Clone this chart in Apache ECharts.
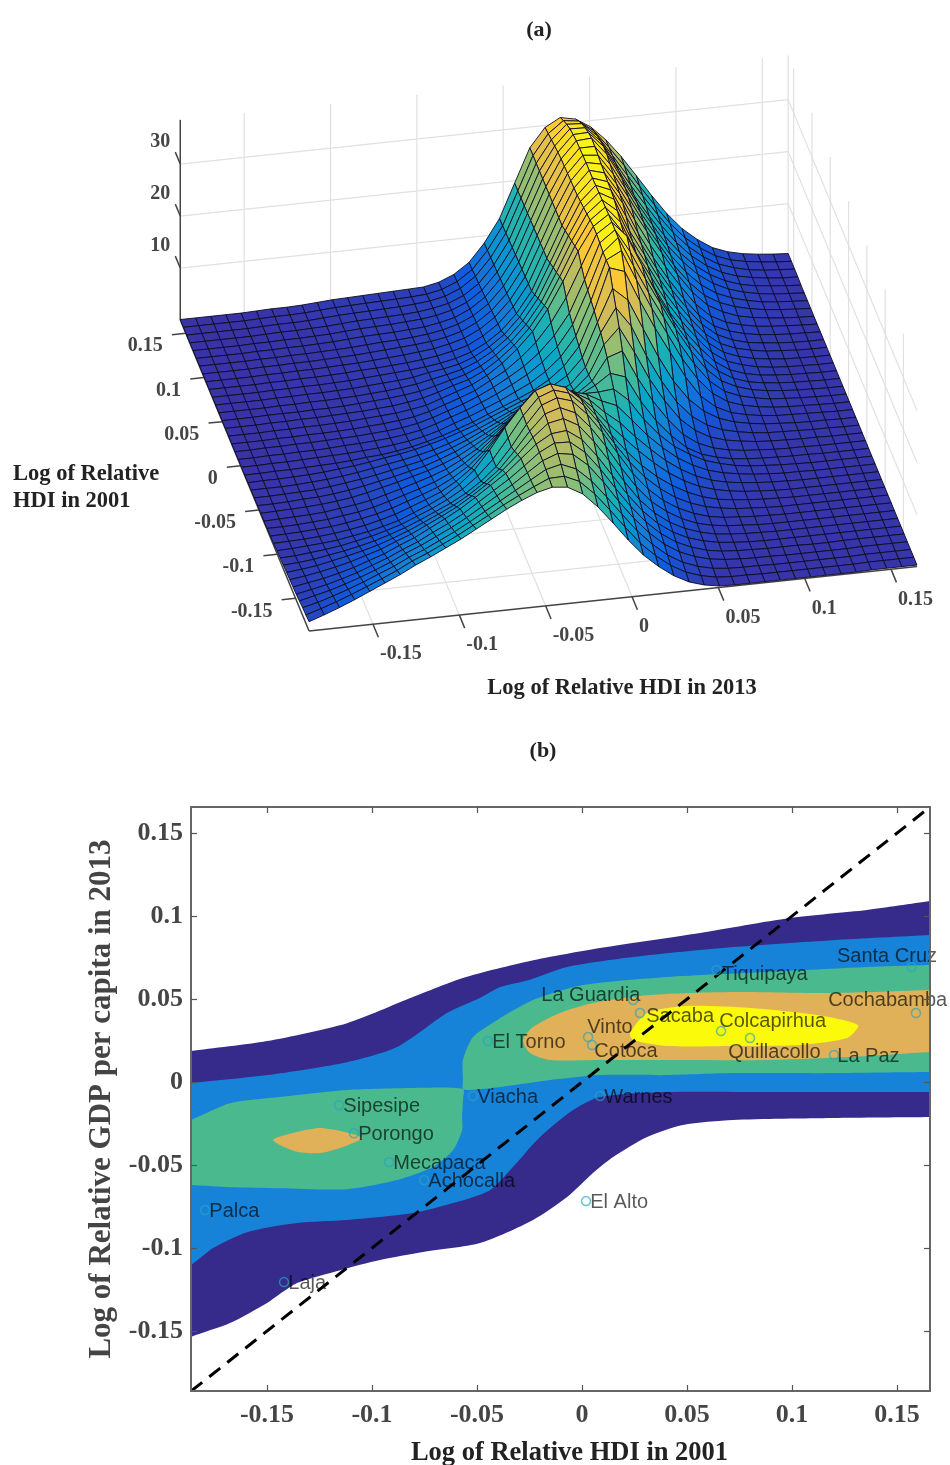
<!DOCTYPE html>
<html><head><meta charset="utf-8">
<style>html,body{margin:0;padding:0;background:#fff}#c{width:950px;height:1465px}</style>
<script src="https://cdn.jsdelivr.net/npm/echarts@6/dist/echarts.min.js"></script></head>
<body><div id="c"></div>
<script>
// ---- panel (a): surface ----
const meshHdi = [-.187,-.1782,-.1694,-.1606,-.1518,-.143,-.1342,-.1254,-.1166,-.1078,-.099,-.0902,-.0814,-.0726,-.0638,-.055,-.0462,-.0374,-.0286,-.0198,-.011,-.0022,.0066,.0154,.0242,.033,.0418,.0506,.0594,.0682,.077,.0858,.0946,.1034,.1122,.121,.1298,.1386,.1474,.1562,.165];
const densityRows = [
[1.8,2.8,3.9,5.1,6.4,7.7,9,10.5,11.8,13.2,14.6,16.2,17.8,19.4,20.8,22,22.7,22.4,20.8,18,14.6,11,7.8,5.3,3.2,1.7,.8,.3,.2,.2,.2,.2,.2,.2,.2,.2,.2,.3,.3,.3,.3],
[1.6,2.5,3.5,4.6,5.8,7,8.3,9.8,11,12.4,13.8,15.4,17,18.7,20.2,21.6,22.9,23,21.7,19,15.6,12,8.6,5.9,3.7,2.1,1.1,.5,.3,.3,.2,.2,.2,.2,.2,.2,.2,.3,.3,.3,.3],
[1.5,2.2,3.1,4.1,5.2,6.4,7.6,9,10.2,11.6,13,14.6,16.3,18,19.7,21.4,23.1,23.8,22.6,20,16.6,13,9.5,6.6,4.2,2.5,1.4,.7,.4,.3,.3,.2,.2,.2,.2,.2,.2,.3,.3,.3,.3],
[1.3,2,2.7,3.6,4.6,5.7,6.9,8.3,9.5,10.9,12.3,13.9,15.7,17.5,19.3,21.3,23.3,24.4,23.9,21.5,18,14,10.4,7.3,4.8,3,1.8,1,.6,.4,.3,.3,.2,.2,.2,.2,.2,.3,.3,.3,.3],
[1.1,1.7,2.3,3.1,4,5.1,6.2,7.5,8.7,10.2,11.6,13.2,15.1,17,18.9,21.1,23.4,24.9,24.8,22.5,19,15,11.2,7.9,5.3,3.4,2.1,1.2,.7,.5,.4,.3,.3,.3,.2,.2,.3,.3,.3,.3,.3],
[1,1.5,2,2.7,3.5,4.5,5.5,6.8,8,9.5,11,12.6,14.5,16.5,18.5,21,23.5,25.2,25.5,23.5,20,16,12,8.5,5.8,3.8,2.4,1.5,.9,.6,.4,.3,.3,.3,.3,.3,.3,.3,.3,.3,.3],
[.9,1.3,1.8,2.4,3.1,4,4.9,6.1,7.2,8.6,10,11.5,13.3,15.3,17.6,20.3,23.3,25.7,26.3,24.7,21.3,17.3,13,9.2,6.3,4.2,2.7,1.7,1,.7,.5,.4,.3,.3,.3,.3,.3,.3,.3,.3,.3],
[.8,1.1,1.5,2.1,2.7,3.4,4.2,5.2,6.3,7.6,8.9,10.3,12,14,16.3,19.5,23,26,26.9,25.6,22.5,18.6,14.2,10.2,7,4.8,3.1,1.9,1.2,.8,.6,.4,.3,.3,.3,.3,.3,.3,.3,.3,.3],
[.7,.9,1.2,1.7,2.2,2.8,3.5,4.4,5.4,6.6,7.9,9.2,10.8,12.8,15.3,18.8,22.8,26.2,27.3,26.4,23.5,19.7,15.4,11.2,7.9,5.4,3.6,2.3,1.4,.9,.7,.5,.4,.3,.3,.3,.3,.3,.3,.3,.3],
[.6,.7,1,1.3,1.7,2.3,2.9,3.7,4.6,5.8,7,8.4,10.1,12.3,15.2,19,23,26.2,27.3,26.4,23.7,20,15.8,11.9,8.7,6.2,4.2,2.8,1.8,1.2,.8,.6,.4,.3,.3,.3,.3,.3,.3,.3,.3],
[.5,.6,.8,1,1.3,1.8,2.3,3,3.8,5,6.2,7.6,9.5,12,15.5,19.5,23,26,27,26,23.5,20,16,12.5,9.5,7,5,3.4,2.2,1.4,1,.7,.5,.4,.3,.3,.3,.3,.3,.3,.3],
[.4,.5,.6,.8,1.1,1.5,2,2.7,3.5,4.6,5.7,6.9,8.6,10.8,13.8,17.3,20.8,24,25.3,24.6,22.7,20,16.6,13.7,10.8,8.2,5.9,4.1,2.7,1.8,1.2,.8,.6,.4,.3,.3,.3,.3,.3,.3,.3],
[.3,.4,.5,.7,.9,1.3,1.8,2.4,3.2,4.2,5.2,6.3,7.8,9.7,12.2,15.2,18.5,21.7,23.3,23,21.7,20,17.3,15,12,9.3,6.8,4.8,3.2,2.1,1.4,1,.7,.5,.4,.3,.3,.3,.3,.3,.3],
[.3,.3,.4,.6,.8,1.2,1.6,2.2,3,3.9,4.8,5.8,7.1,8.8,10.9,13.4,16.2,19.3,21,21,20.4,19.6,18,16.8,13.7,10.5,7.8,5.5,3.8,2.5,1.7,1.2,.8,.6,.4,.4,.3,.3,.3,.3,.3],
[.2,.3,.4,.5,.7,1.1,1.5,2,2.8,3.6,4.5,5.4,6.5,8,9.7,11.9,14.2,16.8,18.5,18.7,18.2,18.2,18.2,18.5,16,12,8.8,6.2,4.4,2.9,2,1.3,.9,.7,.5,.4,.3,.3,.3,.3,.3],
[.2,.3,.4,.5,.7,1,1.4,2,2.7,3.4,4.2,5,6,7.2,8.8,10.5,12.5,14.5,16,16.5,16,16.5,18,20,19,14,10,6.8,4.2,2.6,1.7,1.1,.8,.6,.5,.4,.4,.3,.3,.3,.3],
[.2,.2,.3,.5,.6,.9,1.3,1.8,2.4,3,3.7,4.4,5.4,6.5,7.9,9.4,11,12.8,14.2,14.8,14.6,15.2,17.3,21.5,22.5,17,12.3,8.4,5.2,3.2,2,1.3,.9,.7,.5,.4,.4,.3,.3,.3,.3],
[.2,.2,.3,.4,.5,.8,1.2,1.6,2.1,2.7,3.3,3.9,4.8,5.8,7,8.4,9.8,11.3,12.7,13.3,13.5,14.4,17,22.5,25.5,20.5,15,10.5,6.7,4.2,2.6,1.7,1.2,.8,.6,.5,.4,.4,.3,.3,.3],
[.2,.2,.2,.3,.5,.7,1,1.4,1.9,2.4,2.9,3.5,4.2,5.1,6.2,7.4,8.7,10,11.3,12,12.7,14,17,23.3,27.8,24,18,12.8,8.5,5.4,3.4,2.2,1.5,1,.7,.6,.5,.4,.4,.3,.3],
[.1,.2,.2,.3,.4,.6,.9,1.2,1.6,2.1,2.5,3.1,3.8,4.6,5.6,6.6,7.8,9,10.2,11.2,12.4,14.2,17.3,23.8,30,27.5,21.7,16,11,7.2,4.6,2.9,1.9,1.3,.9,.7,.5,.4,.4,.3,.3],
[.1,.1,.2,.2,.3,.4,.5,.7,1,1.2,1.6,2.1,2.8,3.6,4.6,5.6,6.8,8,9.2,10.5,12.2,14.5,18,24.5,32.5,31.5,25.5,20,15,10,6,3.6,2.2,1.5,1,.7,.6,.5,.4,.3,.3],
[.1,.1,.2,.2,.3,.4,.5,.6,.8,1,1.3,1.7,2.3,3.1,4.2,5.2,6.4,7.6,9,10.4,12.3,14.8,18.5,25,32.5,34,28,22.3,17.2,12,7.8,4.7,2.8,1.8,1.2,.8,.6,.5,.4,.3,.3],
[.1,.1,.2,.2,.3,.3,.4,.6,.7,.9,1.1,1.5,2,2.9,3.9,4.9,6.1,7.4,8.9,10.5,12.6,15.3,19.2,25.5,32.5,35,29.3,23.8,18.7,13.6,9.2,5.6,3.3,2.1,1.4,.9,.7,.5,.4,.3,.3],
[.1,.1,.2,.2,.3,.3,.4,.5,.6,.8,1,1.3,1.8,2.6,3.6,4.6,5.8,7.2,8.8,10.6,12.9,15.9,19.9,26,32.8,35,30.5,25,19.8,14.7,10.2,6.4,3.8,2.4,1.5,1,.7,.5,.4,.3,.3],
[.1,.1,.1,.2,.2,.3,.3,.4,.5,.7,.9,1.2,1.6,2.3,3.3,4.3,5.4,7,8.6,10.8,13.4,16.9,21.4,27.2,33,35,32,26,20,15,10.6,7,4.2,2.5,1.5,1,.7,.5,.4,.3,.3],
[.1,.1,.1,.2,.2,.3,.3,.4,.5,.7,.9,1.1,1.5,2,3,4,5,6.5,8.5,11,14,18,23,28.5,33,35,31,25,20,15,11,7.5,4.5,2.6,1.6,1,.7,.5,.4,.3,.3],
[.1,.1,.1,.2,.2,.3,.3,.4,.5,.6,.8,1,1.4,1.9,2.7,3.7,4.5,5.9,7.8,10.2,13.2,17.2,22.4,28,32.7,34.9,31.7,25.6,20.6,15.6,11.5,7.9,4.8,2.8,1.8,1.1,.7,.5,.4,.3,.3],
[.1,.1,.1,.2,.2,.2,.3,.3,.4,.6,.8,1,1.3,1.7,2.4,3.2,4,5.3,7.1,9.4,12.4,16.4,21.8,27.5,32.4,34.8,32.4,26.2,21.2,16.2,12,8.3,5.1,3,1.9,1.2,.8,.5,.4,.3,.3],
[.1,.1,.1,.1,.2,.2,.3,.3,.4,.5,.7,.9,1.2,1.6,2.2,2.8,3.5,4.7,6.4,8.6,11.6,15.6,21.2,27,32.1,34.7,33.1,26.8,21.8,16.8,12.5,8.7,5.4,3.2,2,1.3,.8,.6,.4,.3,.3],
[.1,.1,.1,.1,.2,.2,.3,.3,.4,.5,.7,.9,1.1,1.4,2,2.4,3,4.1,5.7,7.8,10.8,14.8,20.6,26.5,31.8,34.6,33.4,28,22.4,17.4,13,9.1,5.7,3.4,2.1,1.3,.9,.6,.4,.3,.3],
[.1,.1,.1,.1,.2,.2,.3,.3,.4,.5,.7,.9,1.1,1.3,1.6,2,2.6,3.5,5,7,10,14,20,26,31.5,34.5,33.5,29,23,18,13.5,9.5,6,3.6,2.3,1.5,1,.7,.5,.4,.3],
[.1,.1,.1,.1,.2,.2,.3,.3,.4,.5,.7,.8,1,1.2,1.5,1.9,2.5,3.3,4.8,6.8,9.8,13.9,20,26,31.4,34.5,33.7,29.4,24,19,14.5,10.4,6.6,4,2.5,1.7,1.1,.8,.6,.4,.3],
[.1,.1,.1,.1,.2,.2,.3,.3,.4,.5,.6,.8,1,1.2,1.5,1.8,2.4,3.2,4.6,6.6,9.6,13.8,19.9,26,31.3,34.5,33.9,29.8,24.8,20,15.5,11.2,7.4,4.6,3,1.9,1.3,.9,.6,.4,.3],
[.1,.1,.1,.1,.2,.2,.3,.3,.4,.5,.6,.8,1,1.2,1.4,1.7,2.2,3,4.4,6.4,9.4,13.7,19.9,26,31.2,34.4,34.1,30.2,25.4,20.3,15.8,11.4,7.8,5,3.3,2.2,1.5,1,.7,.5,.3],
[.1,.1,.1,.1,.2,.2,.3,.3,.4,.5,.6,.8,1,1.1,1.3,1.6,2.1,2.9,4.2,6.2,9.3,13.6,19.8,26,31.1,34.3,34.3,30.6,25.7,20.7,16.2,11.8,8.3,5.5,3.6,2.4,1.6,1,.7,.5,.3],
[.1,.1,.1,.1,.2,.2,.3,.3,.4,.5,.7,.9,1,1.1,1.3,1.5,2,2.7,4,6,9.2,13.5,19.8,26,31,34.2,34.4,31,26,21,16.5,12.2,8.8,6,4,2.6,1.7,1.1,.7,.5,.3],
[.1,.1,.1,.1,.2,.2,.3,.3,.4,.5,.7,.9,1,1.1,1.3,1.5,1.9,2.6,3.8,5.8,9,13.4,19.7,26,30.8,33.9,34,31,26,21,16.7,12.6,9.1,6.3,4.2,2.7,1.7,1.1,.8,.5,.3],
[.1,.1,.1,.1,.1,.2,.3,.3,.4,.5,.7,.9,1,1.1,1.2,1.4,1.8,2.4,3.6,5.6,8.9,13.3,19.6,26,30.5,33.5,33.4,30.6,26,21.4,17.2,13.1,9.5,6.6,4.4,2.8,1.8,1.2,.8,.5,.4],
[.1,.1,.1,.1,.1,.2,.3,.3,.4,.6,.8,.9,1,1.1,1.2,1.4,1.7,2.3,3.5,5.5,8.8,13.2,19.6,26,30.2,32.9,32.7,30.1,26,21.8,17.6,13.6,9.9,6.9,4.6,2.9,1.9,1.2,.8,.6,.4],
[.1,.1,.1,.1,.1,.2,.3,.3,.4,.6,.8,.9,1,1.1,1.2,1.3,1.5,2.1,3.3,5.3,8.7,13.1,19.5,26,29.9,32.1,31.7,29.5,26,22.2,18,14,10.2,7.1,4.8,3,1.9,1.3,.9,.6,.4],
[.1,.1,.1,.1,.1,.2,.3,.3,.4,.6,.8,.9,1,1.1,1.2,1.3,1.4,2,3.2,5.2,8.6,13,19.5,26,29.6,31.2,30.6,28.8,26,22.5,18.5,14.4,10.6,7.4,5,3.1,2,1.3,.9,.6,.4]
];
const tickHdi = [-.15,-.1,-.05,0,.05,.1,.15];
const tickDensity = [10,20,30];
const rangeHdi = [-.187,.165];
const densityTop = 38.5;
const parula = ['#3A32A6','#0F5CDD','#1481D6','#06A4CA','#2EB7A4','#87BF77','#D1BB59','#FEC832','#F9FB0E'];

// ---- panel (b): contour regions ----
const outerRegion = [[-.2,.0165],[-.1862,.0187],[-.15,.0247],[-.1119,.0355],[-.0805,.0512],[-.0567,.0627],[-.0248,.0729],[.0086,.0807],[.0562,.0898],[.099,.0988],[.1357,.1036],[.1657,.109],[.18,.1115],[.18,-.0206],[.1657,-.0211],[.1195,-.0217],[.0719,-.0229],[.0481,-.0259],[.031,-.0331],[.0148,-.0452],[.0052,-.0548],[-.0071,-.0693],[-.0233,-.0831],[-.0486,-.097],[-.0757,-.1024],[-.0962,-.1072],[-.1152,-.1133],[-.1357,-.1211],[-.15,-.1331],[-.1676,-.1452],[-.1862,-.1536],[-.2,-.1625]];
const blueRegion = [[-.2,-.0022],[-.1862,-.0006],[-.15,.0042],[-.1119,.012],[-.0881,.0211],[-.0643,.0416],[-.0486,.0506],[-.039,.0572],[-.0248,.0617],[-.0071,.0693],[.0243,.0753],[.0719,.0813],[.1195,.0855],[.1657,.0886],[.18,.0896],[.18,-.006],[.1657,-.006],[.0881,-.006],[.0405,-.006],[.0086,-.009],[-.0043,-.0169],[-.02,-.0331],[-.0329,-.0512],[-.0438,-.0651],[-.0614,-.0729],[-.0805,-.0789],[-.1119,-.0831],[-.1357,-.0849],[-.1595,-.0904],[-.1757,-.1],[-.1862,-.1102],[-.2,-.118]];
const greenLeft = [[-.2,-.0305],[-.1862,-.0229],[-.1676,-.0127],[-.1438,-.009],[-.1119,-.0048],[-.0805,-.0036],[-.0567,-.0042],[-.0567,-.0108],[-.0571,-.0211],[-.0571,-.0289],[-.0614,-.041],[-.071,-.0512],[-.0881,-.059],[-.1119,-.0645],[-.1438,-.0639],[-.1676,-.0633],[-.1862,-.062],[-.2,-.0615]];
const greenRight = [[-.0567,-.0042],[-.0567,.0012],[-.0567,.0133],[-.0519,.0271],[-.0405,.0373],[-.0233,.0494],[.0005,.0584],[.0405,.0633],[.0881,.0663],[.1357,.0693],[.1657,.0705],[.18,.0712],[.18,.006],[.1657,.006],[.1195,.0054],[.0719,.0054],[.0405,.0042],[.0086,.0042],[-.0152,.0012],[-.039,-.003],[-.0533,-.0048]];
const orangeRight = [[-.0281,.0253],[-.0233,.0331],[-.0105,.0416],[.0052,.0476],[.0324,.0524],[.0719,.0542],[.1195,.0536],[.1657,.0554],[.18,.056],[.18,.0185],[.1657,.0181],[.1276,.0151],[.0881,.0133],[.0405,.0133],[.0086,.0133],[-.0152,.0133],[-.0248,.0175]];
const orangeLeft = [[-.1471,-.0349],[-.1357,-.0301],[-.1248,-.0277],[-.1129,-.0301],[-.1048,-.0337],[-.1129,-.0386],[-.1248,-.0428],[-.1367,-.0416]];
const yellowRegion = [[.0229,.0295],[.031,.0416],[.05,.0458],[.08,.0446],[.1119,.0404],[.1314,.0343],[.1262,.0265],[.1038,.0223],[.0719,.0217],[.0405,.0217],[.0243,.0253]];
const cityNames = ['Santa Cruz','Cochabamba','Tiquipaya','La Guardia','Sacaba','Colcapirhua','Quillacollo','La Paz','Vinto','Cotoca','El Torno','Viacha','Warnes','Sipesipe','Porongo','Mecapaca','Achocalla','Palca','Laja','El Alto'];
const cityHdi = [.157,.159,.064,.0243,.0276,.0662,.08,.12,.0029,.0048,-.0448,-.0519,.0086,-.1157,-.1086,-.0919,-.0752,-.1795,-.1419,.0019];
const cityGdp = [.0693,.0416,.0675,.0494,.0416,.0307,.0265,.0163,.0271,.0223,.0247,-.0084,-.0084,-.0139,-.0309,-.0482,-.059,-.0771,-.1205,-.0717];
const tickB = [-.15,-.1,-.05,0,.05,.1,.15];
const rangeBx = [-.1862,.1657];
const rangeBy = [-.1861,.1657];
const diagonal = [[-.1861,-.1861],[.1657,.1657]];

// ---- layout / view ----
const labelShift = {'Santa Cruz':[-80,-11],'Cochabamba':[-93,-13],'Tiquipaya':[0,4],'La Guardia':[-97,-5],'Sacaba':[1,3],'Colcapirhua':[-7,-10],'Quillacollo':[-27,14],'La Paz':[-2,1],'Vinto':[-6,-10],'Cotoca':[-3,6]};
const VIEW = {ox:563.6, oy:431.6, xx:1727, xy:-183, yx:-366, yy:-883.5, zy:-5.2};
const proj = (X,Y,Z)=>[VIEW.ox+VIEW.xx*X+VIEW.yx*Y, VIEW.oy+VIEW.xy*X+VIEW.yy*Y+VIEW.zy*Z];
const [lo,hi] = rangeHdi;
const SERIF = '"Liberation Serif", serif';
const hex = h=>[1,3,5].map(k=>parseInt(h.substr(k,2),16));
function colorOf(z){
  const t=Math.max(0,Math.min(.9999,z/35))*(parula.length-1), k=Math.floor(t), f=t-k;
  const a=hex(parula[k]), b=hex(parula[k+1]);
  return 'rgb('+a.map((v,n)=>Math.round(v+(b[n]-v)*f)).join(',')+')';
}

// segments in the 3D box
const wall=[], axes3=[];
tickHdi.forEach(t=>{
  wall.push([t,hi,0,t,hi,densityTop],[t,lo,0,t,hi,0]);
  wall.push([hi,t,0,hi,t,densityTop],[lo,t,0,hi,t,0]);
  axes3.push([t,lo,0,t,lo-.0147,0],[lo,t,0,lo-.008,t,0]);
});
tickDensity.forEach(z=>{
  wall.push([lo,hi,z,hi,hi,z],[hi,hi,z,hi,lo,z]);
  axes3.push([lo,hi,z,lo,hi+.0135,z]);
});
wall.push([hi,hi,0,hi,hi,densityTop],[hi,hi,0,hi,lo,0],[lo,hi,0,hi,hi,0]);
axes3.push([lo,hi,0,lo,hi,densityTop],[lo,lo,0,hi,lo,0],[lo,lo,0,lo,hi,0]);

const cells=[];
for(let j=39;j>=0;j--) for(let i=39;i>=0;i--) cells.push([i,j]);

const segRender=(style)=>(params,api)=>{
  const a=api.coord(proj(api.value(0),api.value(1),api.value(2)));
  const b=api.coord(proj(api.value(3),api.value(4),api.value(5)));
  return {type:'line',shape:{x1:a[0],y1:a[1],x2:b[0],y2:b[1]},style};
};
const surfaceRender=(params,api)=>{
  const i=api.value(0), j=api.value(1);
  const c=[[i,j],[i+1,j],[i+1,j+1],[i,j+1]];
  const pts=c.map(p=>api.coord(proj(meshHdi[p[0]],meshHdi[p[1]],densityRows[p[1]][p[0]])));
  const m=c.reduce((s,p)=>s+densityRows[p[1]][p[0]],0)/4;
  return {type:'polygon',shape:{points:pts},style:{fill:colorOf(m),stroke:'#0c0c24',lineWidth:.9}};
};
const tickText={fontFamily:SERIF,fontWeight:'bold',fontSize:20,fill:'#454545'};
const labelRender=(params,api)=>{
  const kind=api.value(0), v=api.value(1);
  let p,dx,dy,align='left';
  if(kind===0){p=proj(v,lo,0);dx=7;dy=30;}
  else if(kind===1){p=proj(lo,v,0);dx=-23;dy=13;align='right';}
  else {p=proj(lo,hi,v);dx=-20;dy=-22;align='center';}
  const c=api.coord(p);
  return {type:'text',style:Object.assign({},tickText,{text:String(v),x:c[0]+dx,y:c[1]+dy,textAlign:align,textVerticalAlign:'middle'})};
};
const labelData=[...tickHdi.map(v=>[0,v]),...tickHdi.map(v=>[1,v]),...tickDensity.map(v=>[2,v])];

const regionSeries=(pts,color,z)=>({
  type:'custom',xAxisIndex:1,yAxisIndex:1,coordinateSystem:'cartesian2d',clip:true,silent:true,z,
  data:pts,animation:false,
  renderItem:(params,api)=>params.dataIndex!==0?null:{type:'polygon',shape:{points:pts.map(p=>api.coord(p)),smooth:.25},style:{fill:color}}
});

const axisBase=(pos,labels)=>({
  gridIndex:1,type:'value',position:pos,z:6,
  axisLine:{show:true,onZero:false,lineStyle:{color:'#666',width:2}},
  axisTick:{show:true,inside:true,length:6,customValues:tickB,lineStyle:{color:'#555',width:1.2}},
  splitLine:{show:false},
  axisLabel:labels?{show:true,customValues:tickB,fontFamily:SERIF,fontWeight:'bold',fontSize:26,color:'#454545',margin:pos==='left'?8:11,formatter:v=>String(v)}:{show:false}
});
const txt=(text,x,y,size,align,color)=>({type:'text',x,y,style:{text,fontFamily:SERIF,fontWeight:'bold',fontSize:size,fill:color||'#222',textAlign:align||'left',textVerticalAlign:'middle'}});

const option={
  backgroundColor:'#fff',animation:false,
  grid:[{left:0,top:0,width:950,height:730,show:false,outerBoundsMode:'none'},{left:191,top:807,width:739,height:584,show:false,outerBoundsMode:'none'}],
  xAxis:[
    {gridIndex:0,type:'value',min:0,max:950,show:false},
    Object.assign(axisBase('bottom',true),{min:rangeBx[0],max:rangeBx[1],name:'Log of Relative HDI in 2001',nameLocation:'middle',nameGap:49,nameTextStyle:{fontFamily:SERIF,fontWeight:'bold',fontSize:26.5,color:'#222',padding:[0,0,0,18]}}),
    Object.assign(axisBase('top',false),{min:rangeBx[0],max:rangeBx[1]})
  ],
  yAxis:[
    {gridIndex:0,type:'value',min:0,max:730,inverse:true,show:false},
    Object.assign(axisBase('left',true),{min:rangeBy[0],max:rangeBy[1],name:'Log of Relative GDP per capita in 2013',nameLocation:'middle',nameGap:60,nameTextStyle:{fontFamily:SERIF,fontWeight:'bold',fontSize:31,color:'#444'}}),
    Object.assign(axisBase('right',false),{min:rangeBy[0],max:rangeBy[1]})
  ],
  graphic:[
    txt('(a)',539,30,22,'center'),txt('(b)',543,751,22,'center'),
    txt('Log of Relative HDI in 2013',622,688,22.5,'center'),
    txt('Log of Relative',13,474,22.5),txt('HDI in 2001',13,501,22.5)
  ],
  series:[
    {type:'custom',xAxisIndex:0,yAxisIndex:0,z:1,silent:true,data:wall,renderItem:segRender({stroke:'#e0e0e0',lineWidth:1.2}),animation:false},
    {type:'custom',xAxisIndex:0,yAxisIndex:0,z:1,silent:true,data:axes3,renderItem:segRender({stroke:'#444',lineWidth:1.5}),animation:false},
    {type:'custom',xAxisIndex:0,yAxisIndex:0,z:2,silent:true,data:cells,renderItem:surfaceRender,progressive:0,animation:false},
    {type:'custom',xAxisIndex:0,yAxisIndex:0,z:3,silent:true,data:labelData,renderItem:labelRender,animation:false},
    regionSeries(outerRegion,'#362A8A',2),
    regionSeries(blueRegion,'#1683D8',2),
    regionSeries(greenLeft,'#4AB98D',2),
    regionSeries(greenRight,'#4AB98D',2),
    regionSeries(orangeRight,'#E0B158',2),
    regionSeries(orangeLeft,'#E0B158',2),
    regionSeries(yellowRegion,'#FAFA0A',2),
    {type:'line',xAxisIndex:1,yAxisIndex:1,z:3,data:diagonal,symbol:'none',silent:true,lineStyle:{color:'#000',width:3,type:[14,9]},animation:false},
    {type:'scatter',xAxisIndex:1,yAxisIndex:1,z:4,silent:true,symbol:'circle',symbolSize:9,animation:false,
     itemStyle:{color:'rgba(0,0,0,0)',borderColor:'rgba(40,165,190,.85)',borderWidth:1.5},
     data:cityNames.map((n,k)=>({name:n,value:[cityHdi[k],cityGdp[k]],
       label:{show:true,position:'right',distance:0,formatter:n,offset:labelShift[n]||[-1,1],fontFamily:'"Liberation Sans", sans-serif',fontSize:20,color:'rgba(0,0,0,.82)'}}))}
  ]
};
const chart=echarts.init(document.getElementById('c'),null,{renderer:'canvas',width:950,height:1465});
chart.setOption(option);
</script></body></html>
